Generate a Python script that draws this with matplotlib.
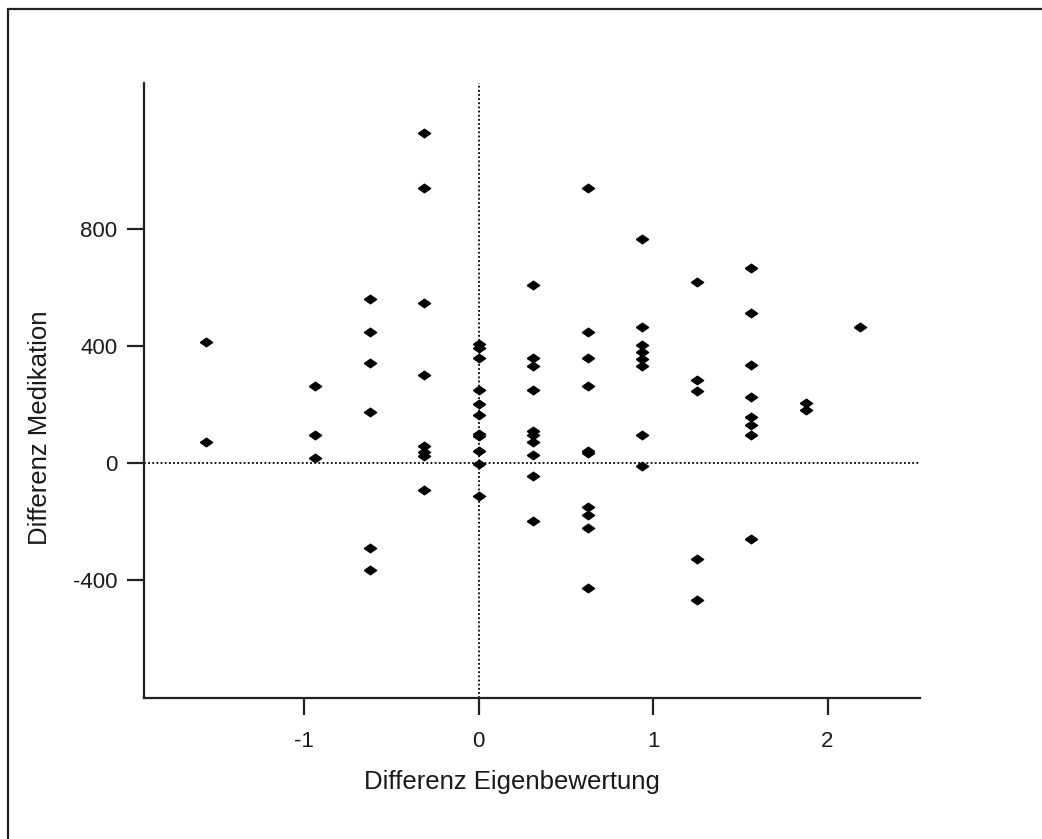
import matplotlib.pyplot as plt
from matplotlib.patches import Rectangle

plt.rcParams["font.family"] = ["Liberation Sans", "DejaVu Sans"]
plt.rcParams["axes.unicode_minus"] = False

# Differenz Eigenbewertung: discrete steps of 1/3.2
x_steps = [-1.5625, -0.9375, -0.625, -0.3125, 0.0, 0.3125,
           0.625, 0.9375, 1.25, 1.5625, 1.875, 2.1875]

# Differenz Medikation, grouped by step
med_m15 = [414, 70]
med_m09 = [264, 96, 18]
med_m06 = [559, 448, 341, 175, -290, -368]
med_m03 = [1128, 939, 548, 302, 56, 38, 23, -94]
med_00 = [405, 393, 359, 250, 201, 163, 97, 92, 40, -5, -114]
med_03 = [608, 359, 330, 250, 109, 95, 72, 27, -45, -200]
med_06 = [939, 447, 359, 262, 40, 33, -150, -179, -222, -430]
med_09 = [765, 464, 403, 380, 354, 331, 95, -10]
med_12 = [620, 285, 245, -329, -469]
med_15 = [665, 513, 335, 224, 158, 129, 95, -262]
med_18 = [203, 180]
med_21 = [464]

groups = [med_m15, med_m09, med_m06, med_m03, med_00, med_03,
          med_06, med_09, med_12, med_15, med_18, med_21]

xs, ys = [], []
for xv, vals in zip(x_steps, groups):
    xs += [xv] * len(vals)
    ys += vals

fig = plt.figure(figsize=(10.42, 8.39), dpi=100)
ax = fig.add_axes([0.1382, 0.1681, 0.7447, 0.7330])

# flat diamond marker
diamond = [(-1, 0), (0, 0.7), (1, 0), (0, -0.7), (-1, 0)]
ax.plot(xs, ys, linestyle="none", marker=diamond, markersize=8.8,
        color="black", zorder=3)

ax.axhline(0, color="black", linestyle=(0, (1, 1.3)), linewidth=1.3, zorder=1)
ax.axvline(0, color="black", linestyle=(0, (1, 1.3)), linewidth=1.3, zorder=1)

ax.set_xlim(-1.92, 2.53)
ax.set_ylim(-805, 1300)
ax.set_xticks([-1, 0, 1, 2])
ax.set_yticks([-400, 0, 400, 800])

for side in ("top", "right"):
    ax.spines[side].set_visible(False)
for side in ("left", "bottom"):
    ax.spines[side].set_linewidth(1.6)
    ax.spines[side].set_color("#222222")

ax.tick_params(direction="out", length=12, width=1.6, color="#222222",
               labelsize=16, labelcolor="#1a1a1a")
ax.tick_params(axis="x", pad=12)
ax.tick_params(axis="y", pad=7)
ax.set_xlabel("Differenz Eigenbewertung", fontsize=18.5, color="#1a1a1a")
ax.set_ylabel("Differenz Medikation", fontsize=18.5, color="#1a1a1a")
ax.xaxis.set_label_coords(0.474, -0.117)
ax.yaxis.set_label_coords(-0.119, 0.44)

# outer frame around the figure
fw, fh = fig.get_size_inches() * fig.dpi
fig.patches.append(Rectangle((7.5 / fw, -0.05), 1.2, 1.05 - 8.5 / fh,
                             transform=fig.transFigure, fill=False,
                             edgecolor="#222222", linewidth=1.6))

fig.savefig("out.png", dpi=100)
